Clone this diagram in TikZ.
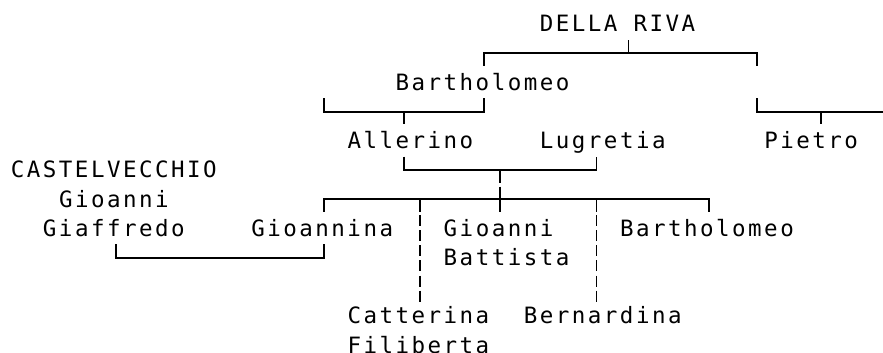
\documentclass[tikz,border=0pt]{standalone}
\usepackage{fontspec}
\newfontfamily\monof[LetterSpace=11.0]{DejaVu Sans Mono}
\newcommand\cpt[4]{\coordinate (#1) at ({3.4+16.03*(#2)},{24+29.2*(#3)+(#4)});}
\newcommand\person[4]{\node[txt] (#1) at ({16.03*(#2)-5.3},{31.8+29.2*(#3)}) {#4};}
\tikzset{
  txt/.style={anchor=base west, inner sep=0pt, font=\monof\fontsize{22.5}{26}\selectfont},
  ln/.style={line width=1.8pt, line cap=butt},
  dsh/.style={ln, dash pattern=on 11pt off 4.14pt}
}
\begin{document}
\begin{tikzpicture}[x=1pt,y=-1pt]
\useasboundingbox (0,0) rectangle (883,353);
% people
\person{dr}{34}{0}{DELLA RIVA}
\person{bA}{25}{2}{Bartholomeo}
\person{al}{22}{4}{Allerino}
\person{lu}{34}{4}{Lugretia}
\person{pi}{48}{4}{Pietro}
\person{cv}{1}{5}{CASTELVECCHIO}
\person{gg}{4}{6}{Gioanni}
\person{gf}{3}{7}{Giaffredo}
\person{gn}{16}{7}{Gioannina}
\person{gb}{28}{7}{Gioanni}
\person{gbb}{28}{8}{Battista}
\person{bB}{39}{7}{Bartholomeo}
\person{ca}{22}{10}{Catterina}
\person{caf}{22}{11}{Filiberta}
\person{be}{33}{10}{Bernardina}
% row 1
\cpt{t1}{30}{1}{12.5}\cpt{t2}{30}{1}{0}\cpt{t3}{47}{1}{0}\cpt{t4}{47}{1}{12.5}
\cpt{t5}{39}{1}{0}\cpt{t6}{39}{1}{-13}
\draw[ln] (t1)--(t2)--(t3)--(t4);
\draw[ln] (t5)--(t6);
% row 3
\cpt{u1}{20}{3}{-13.5}\cpt{u2}{20}{3}{0}\cpt{u3}{30}{3}{0}\cpt{u4}{30}{3}{-13.5}
\cpt{u5}{25}{3}{0}\cpt{u6}{25}{3}{12.5}
\draw[ln] (u1)--(u2)--(u3)--(u4);
\draw[ln] (u5)--(u6);
\cpt{p1}{47}{3}{-13.5}\cpt{p2}{47}{3}{0}\cpt{p4}{51}{3}{0}\cpt{p5}{51}{3}{12.5}
\coordinate (p3) at (883,{24+29.2*3});
\draw[ln] (p1)--(p2)--(p3);
\draw[ln] (p4)--(p5);
% row 5
\cpt{m1}{25}{5}{-13.5}\cpt{m2}{25}{5}{0}\cpt{m3}{37}{5}{0}\cpt{m4}{37}{5}{-13.5}
\cpt{m5}{31}{5}{0}\cpt{m6}{31}{5}{12.5}
\draw[ln] (m1)--(m2)--(m3)--(m4);
\draw[ln] (m5)--(m6);
% row 6
\cpt{k1}{20}{6}{12.5}\cpt{k2}{20}{6}{0}\cpt{k3}{44}{6}{0}\cpt{k4}{44}{6}{12.5}
\cpt{k5}{31}{6}{-12.5}\cpt{k6}{31}{6}{12.5}
\cpt{k7}{26}{6}{0}\cpt{k8}{26}{6}{12.5}
\cpt{k9}{37}{6}{0}\cpt{k10}{37}{6}{12.5}
\draw[ln] (k1)--(k2)--(k3)--(k4);
\draw[ln] (k5)--(k6);
\draw[ln] (k7)--(k8);
\draw[ln] (k9)--(k10);
\cpt{d1}{26}{6}{15.8}\cpt{d2}{26}{9}{14.9}
\cpt{d3}{37}{6}{15.8}\cpt{d4}{37}{9}{14.9}
\draw[dsh] (d1)--(d2);
\draw[dsh] (d3)--(d4);
% row 8
\cpt{g1}{7}{8}{-13.5}\cpt{g2}{7}{8}{0}\cpt{g3}{20}{8}{0}\cpt{g4}{20}{8}{-13.5}
\draw[ln] (g1)--(g2)--(g3)--(g4);
\end{tikzpicture}
\end{document}
